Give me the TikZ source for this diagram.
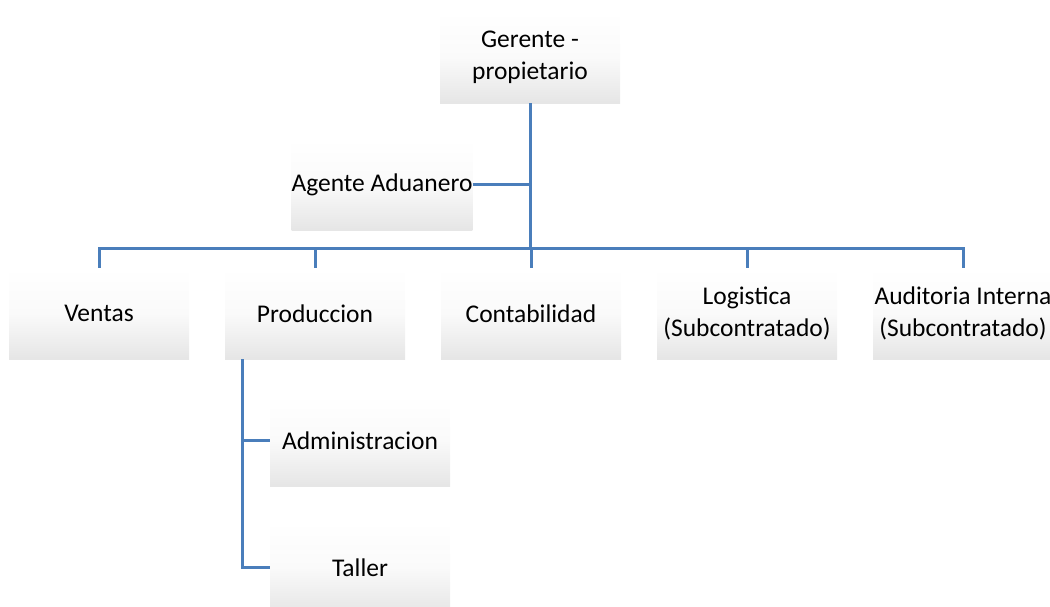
\documentclass[tikz,border=0pt]{standalone}
\usepackage{fontspec}
\setmainfont{Carlito}
\usetikzlibrary{calc}
\definecolor{linkblue}{RGB}{74,126,187}
\tikzset{
  unit/.style={minimum width=180pt,minimum height=91pt,inner sep=0pt,
    align=center,top color=white,bottom color=black!10,middle color=black!2,
    font=\fontsize{25.5}{32}\selectfont},
  link/.style={draw=linkblue,line width=3pt}
}
\begin{document}
\begin{tikzpicture}[x=1pt,y=-1pt]
  \useasboundingbox (0,0) rectangle (1050,606);
  % boxes
  \node[unit] (ger) at (530,57.5) {Gerente -\\propietario};
  \node[unit] (age) at (382,184.5) {Agente Aduanero};
  \node[unit] (ven) at (99,313.5) {Ventas};
  \node[unit] (pro) at (315,313.5) {Produccion};
  \node[unit] (con) at (531,313.5) {Contabilidad};
  \node[unit] (log) at (747,313.5) {Logistica\\(Subcontratado)};
  \node[unit] (aud) at (963,313.5) {Auditoria Interna\\(Subcontratado)};
  \node[unit] (adm) at (360,440.5) {Administracion};
  \node[unit] (tal) at (360,567.5) {Taller};
  % connectors
  \coordinate (hub) at (530,248);
  \coordinate (side) at (530,184.5);
  \coordinate (sub) at ($(pro.south west)+(18,0)$);
  \draw[link]
    (ger.south)
    --
    (hub);
  \draw[link]
    (age.east)
    --
    (side);
  \draw[link]
    (ven.north)
    |-
    (hub)
    -|
    (aud.north);
  \draw[link]
    (pro.north)
    --
    (pro.north |- hub);
  \draw[link]
    (con.north)
    --
    (con.north |- hub);
  \draw[link]
    (log.north)
    --
    (log.north |- hub);
  \draw[link]
    (sub)
    |-
    (tal.west);
  \draw[link]
    (sub |- adm.west)
    --
    (adm.west);
\end{tikzpicture}
\end{document}
